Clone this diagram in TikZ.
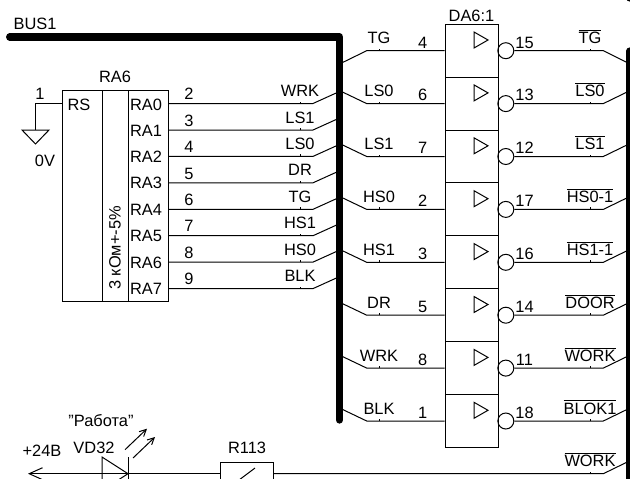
\documentclass[tikz,border=0pt]{standalone}
\usepackage{fontspec}
\setmainfont{Liberation Sans}
\usepackage{tikz}
\usetikzlibrary{arrows.meta}

\tikzset{
	every node/.style={font=\fontsize{12.3}{14}\selectfont},
	wire/.style={line width=0.75pt},
	bus/.style={line width=5.5pt, line cap=round, line join=round},
	cell/.style={rectangle, draw, line width=0.75pt, inner sep=0pt, minimum width=39.75pt, minimum height=39.68pt},
	column/.style={rectangle, draw, line width=0.75pt, inner sep=0pt, minimum height=158.6pt},
	bubble/.style={circle, draw, line width=0.75pt, inner sep=0pt, minimum size=12pt},
	signalLabel/.style={anchor=south, inner xsep=0pt, inner ysep=5pt, text depth=0pt,
		append after command={(\tikzlastnode.south) edge[line width=0.75pt] ++(0,-2)}},
	pinLabel/.style={anchor=south, inner sep=0pt, text depth=0pt},
	plainLabel/.style={inner sep=0pt},
	ledArrow/.style={line width=0.75pt, -{Straight Barb[length=5pt,width=5pt]}}
}

\begin{document}
\begin{tikzpicture}[x=0.75pt,y=-0.75pt]
	
	\path[use as bounding box,clip] (0,0) rectangle (630,478);
	
	% Buses
	
	\coordinate (busStart) at (9.7,37);
	\coordinate (busCorner) at (339.5,37);
	\coordinate (busEnd) at (339.5,420);
	\coordinate (rightTop) at (630,51);
	\coordinate (rightEnd) at (630,490);
	\coordinate (cornerTop) at (630,-8);
	\coordinate (cornerEnd) at (630,-2);
	
	\node[plainLabel] (busName) at (35,24) {BUS1};
	
	\draw[bus] (busStart) -- (busCorner) -- (busEnd);
	\draw[bus] (rightTop) -- (rightEnd);
	\draw[bus] (cornerTop) -- (cornerEnd);
	
	% Resistor array
	
	\node[column, minimum width=30pt] (colRS) at (82,195.75) {};
	\node[column, minimum width=19.5pt] (colMid) at (115,195.75) {};
	\node[column, minimum width=30pt] (colRA) at (148,195.75) {};
	
	\node[plainLabel] (raName) at (115,77) {RA6};
	\node[plainLabel] (rsName) at (79,104.5) {RS};
	\node[plainLabel, rotate=90] (raValue) at (115,248) {3 кОм+-5\%};
	
	\node[plainLabel] (ra0) at (146,104.5) {RA0};
	\node[plainLabel] (ra1) at (146,130.5) {RA1};
	\node[plainLabel] (ra2) at (146,156.5) {RA2};
	\node[plainLabel] (ra3) at (146,183) {RA3};
	\node[plainLabel] (ra4) at (146,209.5) {RA4};
	\node[plainLabel] (ra5) at (146,236) {RA5};
	\node[plainLabel] (ra6) at (146,262.5) {RA6};
	\node[plainLabel] (ra7) at (146,289) {RA7};
	
	% Ground
	
	\coordinate (rsPin) at (62,103.5);
	\coordinate (gndTop) at (35.5,130);
	
	\node[pinLabel] (pinRS) at (40,100) {1};
	\node[plainLabel] (gndName) at (45,160.5) {0V};
	
	\draw[wire] (rsPin) -- (35.5,103.5) -- (gndTop);
	\draw[wire] (22,130) -- (49,130) -- (35.5,144) -- cycle;
	
	% Array outputs
	
	\coordinate (raPin0) at (168,103.5);
	\coordinate (raPin1) at (168,130);
	\coordinate (raPin2) at (168,156.4);
	\coordinate (raPin3) at (168,182.8);
	\coordinate (raPin4) at (168,209.3);
	\coordinate (raPin5) at (168,235.7);
	\coordinate (raPin6) at (168,262.1);
	\coordinate (raPin7) at (168,288.6);
	
	\coordinate (raBus0) at (339.5,91.5);
	\coordinate (raBus1) at (339.5,118);
	\coordinate (raBus2) at (339.5,144.4);
	\coordinate (raBus3) at (339.5,170.8);
	\coordinate (raBus4) at (339.5,197.3);
	\coordinate (raBus5) at (339.5,223.7);
	\coordinate (raBus6) at (339.5,250.1);
	\coordinate (raBus7) at (339.5,276.6);
	
	\node[pinLabel] (raNum0) at (189,100) {2};
	\node[pinLabel] (raNum1) at (189,126.5) {3};
	\node[pinLabel] (raNum2) at (189,153) {4};
	\node[pinLabel] (raNum3) at (189,179.5) {5};
	\node[pinLabel] (raNum4) at (189,206) {6};
	\node[pinLabel] (raNum5) at (189,232) {7};
	\node[pinLabel] (raNum6) at (189,258.5) {8};
	\node[pinLabel] (raNum7) at (189,285) {9};
	
	\node[signalLabel] (raSig0) at (300,103.5) {WRK};
	\node[signalLabel] (raSig1) at (300,130) {LS1};
	\node[signalLabel] (raSig2) at (300,156.4) {LS0};
	\node[signalLabel] (raSig3) at (300,182.8) {DR};
	\node[signalLabel] (raSig4) at (300,209.3) {TG};
	\node[signalLabel] (raSig5) at (300,235.7) {HS1};
	\node[signalLabel] (raSig6) at (300,262.1) {HS0};
	\node[signalLabel] (raSig7) at (300,288.6) {BLK};
	
	\draw[wire] (raPin0) -- (raSig0.south) -- ++(13,0) -- (raBus0);
	\draw[wire] (raPin1) -- (raSig1.south) -- ++(13,0) -- (raBus1);
	\draw[wire] (raPin2) -- (raSig2.south) -- ++(13,0) -- (raBus2);
	\draw[wire] (raPin3) -- (raSig3.south) -- ++(13,0) -- (raBus3);
	\draw[wire] (raPin4) -- (raSig4.south) -- ++(13,0) -- (raBus4);
	\draw[wire] (raPin5) -- (raSig5.south) -- ++(13,0) -- (raBus5);
	\draw[wire] (raPin6) -- (raSig6.south) -- ++(13,0) -- (raBus6);
	\draw[wire] (raPin7) -- (raSig7.south) -- ++(13,0) -- (raBus7);
	
	% Buffers
	
	\node[plainLabel] (daName) at (471.5,15.5) {DA6:1};
	
	\node[cell] (cell1) at (471.5,50.7) {};
	\node[cell] (cell2) at (471.5,103.6) {};
	\node[cell] (cell3) at (471.5,156.5) {};
	\node[cell] (cell4) at (471.5,209.4) {};
	\node[cell] (cell5) at (471.5,262.3) {};
	\node[cell] (cell6) at (471.5,315.2) {};
	\node[cell] (cell7) at (471.5,368.1) {};
	\node[cell] (cell8) at (471.5,421) {};
	
	\draw[wire] (474,32) -- (474,48) -- (488,40) -- cycle;
	\draw[wire] (474,84.9) -- (474,100.9) -- (488,92.9) -- cycle;
	\draw[wire] (474,137.8) -- (474,153.8) -- (488,145.8) -- cycle;
	\draw[wire] (474,190.7) -- (474,206.7) -- (488,198.7) -- cycle;
	\draw[wire] (474,243.6) -- (474,259.6) -- (488,251.6) -- cycle;
	\draw[wire] (474,296.5) -- (474,312.5) -- (488,304.5) -- cycle;
	\draw[wire] (474,349.4) -- (474,365.4) -- (488,357.4) -- cycle;
	\draw[wire] (474,402.3) -- (474,418.3) -- (488,410.3) -- cycle;
	
	\node[bubble] (bubble1) at (505.8,50.7) {};
	\node[bubble] (bubble2) at (505.8,103.6) {};
	\node[bubble] (bubble3) at (505.8,156.5) {};
	\node[bubble] (bubble4) at (505.8,209.4) {};
	\node[bubble] (bubble5) at (505.8,262.3) {};
	\node[bubble] (bubble6) at (505.8,315.2) {};
	\node[bubble] (bubble7) at (505.8,368.1) {};
	\node[bubble] (bubble8) at (505.8,421) {};
	
	% Buffer inputs
	
	\coordinate (inBus1) at (339.5,64);
	\coordinate (inBus2) at (339.5,90.6);
	\coordinate (inBus3) at (339.5,143.5);
	\coordinate (inBus4) at (339.5,196.4);
	\coordinate (inBus5) at (339.5,249.3);
	\coordinate (inBus6) at (339.5,302.2);
	\coordinate (inBus7) at (339.5,355.1);
	\coordinate (inBus8) at (339.5,408);
	
	\node[pinLabel] (inNum1) at (422.7,48.3) {4};
	\node[pinLabel] (inNum2) at (422.7,101.2) {6};
	\node[pinLabel] (inNum3) at (422.7,154.1) {7};
	\node[pinLabel] (inNum4) at (422.7,207) {2};
	\node[pinLabel] (inNum5) at (422.7,259.9) {3};
	\node[pinLabel] (inNum6) at (422.7,312.8) {5};
	\node[pinLabel] (inNum7) at (422.7,365.7) {8};
	\node[pinLabel] (inNum8) at (422.7,418.6) {1};
	
	\node[signalLabel] (inSig1) at (379,50.7) {TG};
	\node[signalLabel] (inSig2) at (379,103.6) {LS0};
	\node[signalLabel] (inSig3) at (379,156.5) {LS1};
	\node[signalLabel] (inSig4) at (379,209.4) {HS0};
	\node[signalLabel] (inSig5) at (379,262.3) {HS1};
	\node[signalLabel] (inSig6) at (379,315.2) {DR};
	\node[signalLabel] (inSig7) at (379,368.1) {WRK};
	\node[signalLabel] (inSig8) at (379,421) {BLK};
	
	\draw[wire] (cell1.west) -- (inSig1.south) -- ++(-12.3,0) -- (inBus1);
	\draw[wire] (cell2.west) -- (inSig2.south) -- ++(-12.3,0) -- (inBus2);
	\draw[wire] (cell3.west) -- (inSig3.south) -- ++(-12.3,0) -- (inBus3);
	\draw[wire] (cell4.west) -- (inSig4.south) -- ++(-12.3,0) -- (inBus4);
	\draw[wire] (cell5.west) -- (inSig5.south) -- ++(-12.3,0) -- (inBus5);
	\draw[wire] (cell6.west) -- (inSig6.south) -- ++(-12.3,0) -- (inBus6);
	\draw[wire] (cell7.west) -- (inSig7.south) -- ++(-12.3,0) -- (inBus7);
	\draw[wire] (cell8.west) -- (inSig8.south) -- ++(-12.3,0) -- (inBus8);
	
	% Buffer outputs
	
	\coordinate (outBus1) at (630,64);
	\coordinate (outBus2) at (630,90.6);
	\coordinate (outBus3) at (630,143.5);
	\coordinate (outBus4) at (630,196.4);
	\coordinate (outBus5) at (630,249.3);
	\coordinate (outBus6) at (630,302.2);
	\coordinate (outBus7) at (630,355.1);
	\coordinate (outBus8) at (630,408);
	
	\node[pinLabel] (outNum1) at (524.5,48.3) {15};
	\node[pinLabel] (outNum2) at (524.5,101.2) {13};
	\node[pinLabel] (outNum3) at (524.5,154.1) {12};
	\node[pinLabel] (outNum4) at (524.5,207) {17};
	\node[pinLabel] (outNum5) at (524.5,259.9) {16};
	\node[pinLabel] (outNum6) at (524.5,312.8) {14};
	\node[pinLabel] (outNum7) at (524.5,365.7) {11};
	\node[pinLabel] (outNum8) at (524.5,418.6) {18};
	
	\node[signalLabel] (outSig1) at (590,50.7) {$\overline{\mbox{TG}}$};
	\node[signalLabel] (outSig2) at (590,103.6) {$\overline{\mbox{LS0}}$};
	\node[signalLabel] (outSig3) at (590,156.5) {$\overline{\mbox{LS1}}$};
	\node[signalLabel] (outSig4) at (590,209.4) {$\overline{\mbox{HS0-1}}$};
	\node[signalLabel] (outSig5) at (590,262.3) {$\overline{\mbox{HS1-1}}$};
	\node[signalLabel] (outSig6) at (590,315.2) {$\overline{\mbox{DOOR}}$};
	\node[signalLabel] (outSig7) at (590,368.1) {$\overline{\mbox{WORK}}$};
	\node[signalLabel] (outSig8) at (590,421) {$\overline{\mbox{BLOK1}}$};
	
	\draw[wire] (bubble1.east) -- (outSig1.south) -- ++(13.3,0) -- (outBus1);
	\draw[wire] (bubble2.east) -- (outSig2.south) -- ++(13.3,0) -- (outBus2);
	\draw[wire] (bubble3.east) -- (outSig3.south) -- ++(13.3,0) -- (outBus3);
	\draw[wire] (bubble4.east) -- (outSig4.south) -- ++(13.3,0) -- (outBus4);
	\draw[wire] (bubble5.east) -- (outSig5.south) -- ++(13.3,0) -- (outBus5);
	\draw[wire] (bubble6.east) -- (outSig6.south) -- ++(13.3,0) -- (outBus6);
	\draw[wire] (bubble7.east) -- (outSig7.south) -- ++(13.3,0) -- (outBus7);
	\draw[wire] (bubble8.east) -- (outSig8.south) -- ++(13.3,0) -- (outBus8);
	
	% LED line
	
	\coordinate (supply) at (28,473.7);
	\coordinate (ledRayA) at (125,449.7);
	\coordinate (ledRayB) at (133,458);
	\coordinate (ledTipA) at (147,428.7);
	\coordinate (ledTipB) at (155,437);
	\coordinate (workBus) at (630,460.7);
	
	\node[plainLabel] (supplyName) at (42,451) {+24В};
	\node[plainLabel] (ledName) at (101,421) {"Работа"};
	\node[plainLabel] (vdName) at (94,447.5) {VD32};
	\node[plainLabel] (rName) at (247,447.5) {R113};
	
	\node[rectangle, draw, line width=0.75pt, inner sep=0pt, minimum width=39.75pt, minimum height=17.1pt] 
	(r113) at (247,473.7) {};
	
	\node[signalLabel] (workSig) at (590,473.7) {$\overline{\mbox{WORK}}$};
	
	\draw[wire, <-, >={Straight Barb[length=10pt,width=9pt]}] (supply) -- (r113.west);
	\draw[wire] (r113.east) -- (workSig.south) -- ++(13.3,0) -- (workBus);
	
	\draw[wire] (102,457) -- (128,473.7) -- (102,490.4) -- cycle;
	\draw[wire] (128,457) -- (128,490.4);
	\draw[wire] (255,468) -- (239,480);
	
	\draw[ledArrow] (ledRayA) -- (ledTipA);
	\draw[ledArrow] (ledRayB) -- (ledTipB);
	
\end{tikzpicture}
\end{document}
